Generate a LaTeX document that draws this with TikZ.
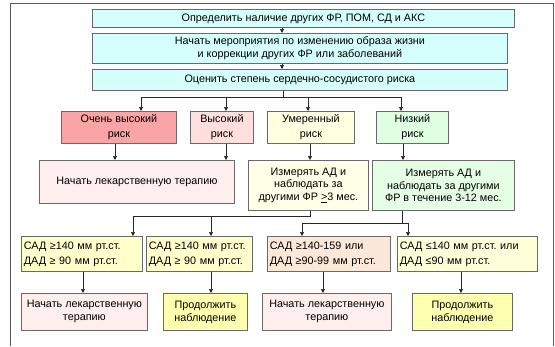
\documentclass[tikz,border=0pt]{standalone}
\usepackage{fontspec}
\setmainfont{Liberation Sans}
\usetikzlibrary{arrows.meta}
\frenchspacing
\definecolor{bordc}{RGB}{105,105,105}
\definecolor{linec}{RGB}{40,40,40}
\definecolor{framec}{RGB}{90,90,90}
\definecolor{cyanf}{RGB}{212,255,252}
\definecolor{vhighf}{RGB}{250,165,165}
\definecolor{highf}{RGB}{255,222,222}
\definecolor{modf}{RGB}{255,255,225}
\definecolor{lowf}{RGB}{222,255,226}
\definecolor{therf}{RGB}{255,238,238}
\definecolor{meas1f}{RGB}{255,255,232}
\definecolor{meas2f}{RGB}{228,255,228}
\definecolor{condf}{RGB}{255,255,204}
\definecolor{peachf}{RGB}{252,232,216}
\definecolor{cond4f}{RGB}{255,255,218}
\definecolor{contf}{RGB}{255,255,176}
\tikzset{
  box/.style={draw=bordc, line width=0.8pt, inner sep=2pt, anchor=north west,
    align=center, font=\fontsize{10.8}{13}\selectfont\frenchspacing},
  lbox/.style={box, align=left, inner sep=2.5pt},
  arr/.style={draw=linec, line width=0.7pt, -{Triangle[length=4pt,width=4pt]}},
  ln/.style={draw=linec, line width=0.7pt},
}
\begin{document}
\begin{tikzpicture}[x=1pt,y=-1pt]
\useasboundingbox (0,0) rectangle (555,346);
\draw[framec, line width=0.8pt] (10,346) -- (10,3) -- (553,3) -- (553,346);

% top boxes
\node[box, fill=cyanf, minimum width=422pt, minimum height=18pt] (b1) at (92,9)
  {Определить наличие других ФР, ПОМ, СД и АКС};
\node[box, fill=cyanf, minimum width=415pt, minimum height=30pt,
  font=\fontsize{10.8}{12.5}\selectfont\frenchspacing] (b2) at (92,33)
  {Начать мероприятия по изменению образа жизни\\и коррекции других ФР или заболеваний};
\node[box, fill=cyanf, minimum width=415pt, minimum height=21pt] (b3) at (92,69)
  {Оценить степень сердечно-сосудистого риска};

% risk boxes
\node[box, fill=vhighf, minimum width=115pt, minimum height=32pt,
  font=\fontsize{10.8}{15}\selectfont] (r1) at (61,111) {Очень высокий\\риск};
\node[box, fill=highf, minimum width=63pt, minimum height=32pt,
  font=\fontsize{10.8}{15}\selectfont] (r2) at (190,111) {Высокий\\риск};
\node[box, fill=modf, minimum width=87pt, minimum height=32pt,
  font=\fontsize{10.8}{15}\selectfont] (r3) at (267,111) {Умеренный\\риск};
\node[box, fill=lowf, minimum width=72pt, minimum height=32pt,
  font=\fontsize{10.8}{15}\selectfont] (r4) at (376,111) {Низкий\\риск};

% third row
\node[box, fill=therf, minimum width=195pt, minimum height=43pt] (t1) at (39,160)
  {Начать лекарственную терапию};
\node[box, fill=meas1f, minimum width=120pt, minimum height=50pt,
  font=\fontsize{10.8}{12.5}\selectfont\frenchspacing] (m1) at (248,160)
  {Измерять АД и\\наблюдать за\\другими ФР \underline{>}3 мес.};
\node[box, fill=meas2f, minimum width=142pt, minimum height=50pt,
  font=\fontsize{10.8}{12.5}\selectfont\frenchspacing] (m2) at (372,160)
  {Измерять АД и\\наблюдать за другими\\ФР в течение 3-12 мес.};

% fourth row
\node[lbox, fill=condf, text width=116pt, minimum height=35pt,
  font=\fontsize{10.8}{15}\selectfont\frenchspacing] (c1) at (21,236)
  {САД ≥140 мм рт.ст.\\ДАД ≥ 90 мм рт.ст.};
\node[lbox, fill=condf, text width=101pt, minimum height=35pt,
  font=\fontsize{10.8}{15}\selectfont\frenchspacing] (c2) at (146,236)
  {САД ≥140 мм рт.ст.\\ДАД ≥ 90 мм рт.ст.};
\node[lbox, fill=peachf, text width=118pt, minimum height=35pt,
  font=\fontsize{10.8}{15}\selectfont\frenchspacing] (c3) at (267,236)
  {САД ≥140-159 или\\ДАД ≥90-99 мм рт.ст.};
\node[lbox, fill=cond4f, text width=135pt, minimum height=35pt,
  font=\fontsize{10.8}{15}\selectfont\frenchspacing] (c4) at (397,236)
  {САД ≤140 мм рт.ст. или\\ДАД ≤90 мм рт.ст.};

% fifth row
\node[box, fill=therf, minimum width=126pt, minimum height=37pt] (d1) at (21,293)
  {Начать лекарственную\\терапию};
\node[box, fill=contf, minimum width=84pt, minimum height=37pt] (d2) at (163,293)
  {Продолжить\\наблюдение};
\node[box, fill=therf, minimum width=129pt, minimum height=37pt] (d3) at (262,293)
  {Начать лекарственную\\терапию};
\node[box, fill=contf, minimum width=100pt, minimum height=37pt] (d4) at (412,293)
  {Продолжить\\наблюдение};

% connectors top
\draw[arr] (b1.south -| 282,0) -- (b2.north -| 282,0);
\draw[arr] (b2.south -| 282,0) -- (b3.north -| 282,0);
\coordinate (j0) at (283,97);
\draw[ln] (b3.south -| j0) -- (j0);
\draw[ln] (141,97) coordinate (j0l) -- (401,97) coordinate (j0r);
\draw[arr] (j0l) -- (r1.north -| j0l);
\draw[arr] (226,97) coordinate (j0b) -- (r2.north -| j0b);
\draw[arr] (308,97) coordinate (j0c) -- (r3.north -| j0c);
\draw[arr] (j0r) -- (r4.north -| j0r);

% risk to third row
\draw[arr] (r1.south -| 115,0) -- (t1.north -| 115,0);
\draw[arr] (r2.south -| 226,0) -- (t1.north -| 226,0);
\draw[arr] (r3.south -| 310,0) -- (m1.north -| 310,0);
\draw[arr] (r4.south -| 403,0) -- (m2.north -| 403,0);

% third to fourth row
\coordinate (j1) at (310,216);
\draw[ln] (m1.south -| j1) -- (j1) -- (133,216) coordinate (j1l);
\draw[arr] (j1l) -- (c1.north -| j1l);
\draw[arr] (211,216) coordinate (j1b) -- (c2.north -| j1b);
\coordinate (j2) at (402,223);
\draw[ln] (m2.south -| j2) -- (j2);
\draw[ln] (302,223) coordinate (j2l) -- (408,223) coordinate (j2r);
\draw[arr] (j2l) -- (c3.north -| j2l);
\draw[arr] (j2r) -- (c4.north -| j2r);

% fourth to fifth row
\draw[arr] (c1.south -| 83,0) -- (d1.north -| 83,0);
\draw[arr] (c2.south -| 211,0) -- (d2.north -| 211,0);
\draw[arr] (c3.south -| 323,0) -- (d3.north -| 323,0);
\draw[arr] (c4.south -| 461,0) -- (d4.north -| 461,0);
\end{tikzpicture}
\end{document}
